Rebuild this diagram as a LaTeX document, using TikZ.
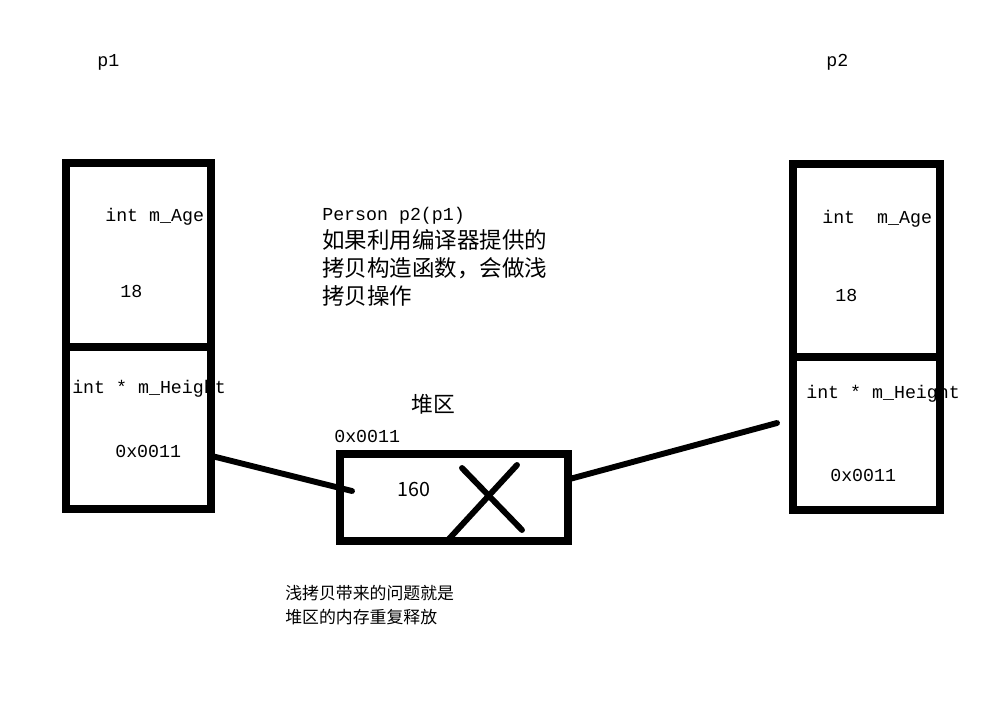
\documentclass[tikz,border=0pt]{standalone}
\usepackage{fontspec}
\setmonofont{Liberation Mono}
\newfontfamily\cjk{Noto Sans CJK SC}
\usetikzlibrary{positioning}

\begin{document}
\begin{tikzpicture}[x=0.025cm,y=-0.025cm,
  cell/.style={draw,line width=5pt,inner sep=0pt,outer sep=0pt,anchor=north west},
  code/.style={font=\ttfamily\fontsize{13}{15}\selectfont,inner sep=0pt,anchor=west},
  zh/.style={font=\cjk\fontsize{16}{20}\selectfont,inner sep=0pt,anchor=west},
  link/.style={line width=4.2pt,line cap=round}]
\useasboundingbox[fill=white] (0,0) rectangle (994,703);
% object p1
\node[code] (p1name) at (97,62) {p1};
\node[cell,minimum width=145*0.025cm,minimum height=184*0.025cm] (p1age) at (66,163) {};
\node[cell,minimum width=145*0.025cm,minimum height=162*0.025cm] (p1ptr) at (66,347) {};
\node[code] at (105,217) {int m\_Age};
\node[code] at (120,291) {18};
\node[code] at (72,389) {int * m\_Height};
\node[code] at (115,451) {0x0011};
% object p2
\node[code] (p2name) at (826,62) {p2};
\node[cell,minimum width=147*0.025cm,minimum height=193*0.025cm] (p2age) at (793,164) {};
\node[cell,minimum width=147*0.025cm,minimum height=153*0.025cm] (p2ptr) at (793,357) {};
\node[code] at (822,219) {int\ \ m\_Age};
\node[code] at (835,295) {18};
\node[code] at (806,394) {int * m\_Height};
\node[code] at (830,475) {0x0011};
% heap
\node[cell,minimum width=228*0.025cm,minimum height=87*0.025cm] (heap) at (340,454) {};
\node[zh,font=\cjk\fontsize{15.5}{18}\selectfont] (heapname) at (411,404) {堆区};
\node[code] (addr) at (334,436) {0x0011};
\node[zh,font=\cjk\fontsize{14}{16}\selectfont] (val) at (397,489) {160};
\draw[link] (462,468) -- (522,530);
\draw[link] (517,465) -- (448,540);
% notes
\node[zh,align=left,anchor=north west,font=\cjk\fontsize{16}{19.8}\selectfont] (note) at (322,207)
  {{\ttfamily\fontsize{13}{15}\selectfont Person p2(p1)}\\ 如果利用编译器提供的\\ 拷贝构造函数，会做浅\\ 拷贝操作};
\node[zh,align=left,anchor=north west,font=\cjk\fontsize{12}{17}\selectfont] (issue) at (285,585)
  {浅拷贝带来的问题就是\\ 堆区的内存重复释放};
% pointers
\coordinate (h1) at (352,491);
\coordinate (h2) at (777,423);
\draw[link] (p1ptr.-21.5) -- (h1);
\draw[link] (heap.9.5) -- (h2);
\end{tikzpicture}
\end{document}
